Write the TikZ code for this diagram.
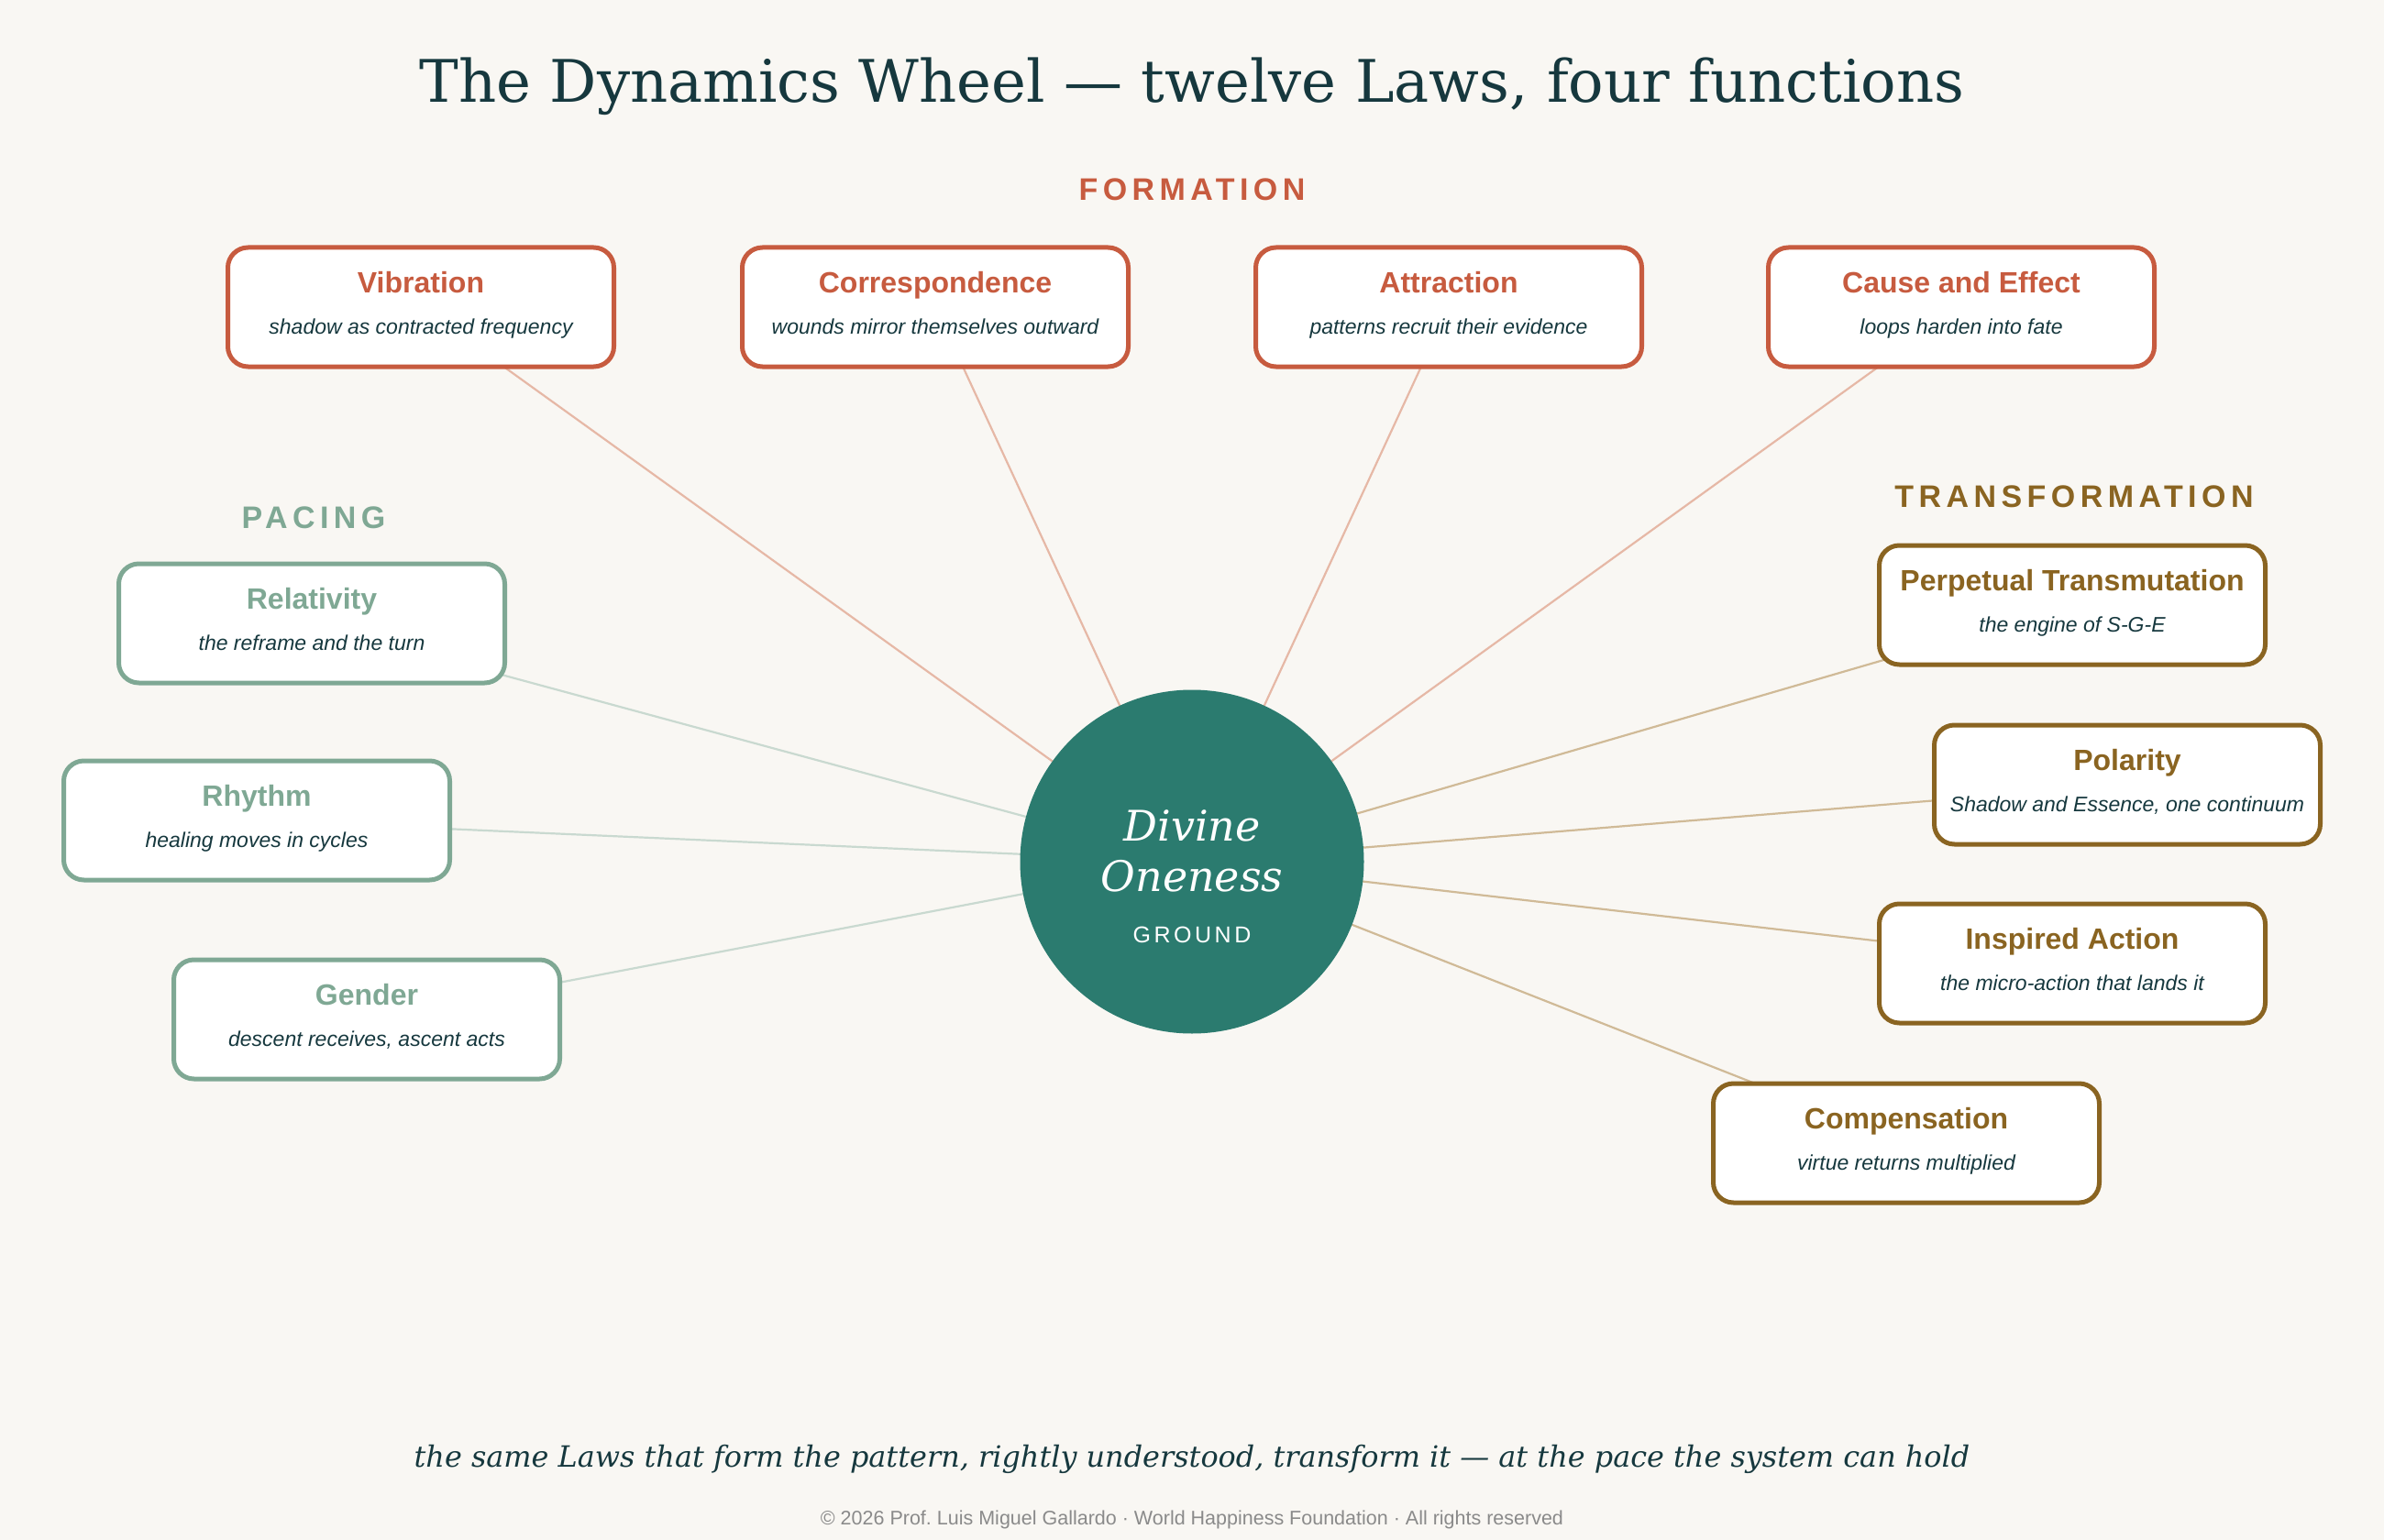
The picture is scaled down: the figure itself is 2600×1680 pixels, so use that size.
\documentclass[tikz,border=0pt]{standalone}
\usepackage{fontspec}
\setmainfont{DejaVu Serif}
\newfontfamily\lsans{Liberation Sans}
\frenchspacing
\definecolor{bgc}{HTML}{F9F7F3}
\definecolor{ink}{HTML}{16383E}
\definecolor{formc}{HTML}{C75B3F}
\definecolor{pacec}{HTML}{7FA894}
\definecolor{tranc}{HTML}{8A6421}
\definecolor{forml}{HTML}{E6B8A6}
\definecolor{pacel}{HTML}{C9D9D0}
\definecolor{tranl}{HTML}{D0BA97}
\definecolor{tealc}{HTML}{2B7B6F}
\definecolor{grayc}{HTML}{8A8A8A}
\pgfdeclarelayer{bgl}
\pgfdeclarelayer{linel}
\pgfsetlayers{bgl,linel,main}
\tikzset{
  lawframe/.style={rectangle, rounded corners=22pt, fill=white, line width=5pt,
    minimum width=421pt, minimum height=130pt, inner sep=0pt},
  lawtitle/.style={inner sep=0pt, anchor=base, font=\lsans\bfseries\fontsize{32}{38}\selectfont},
  lawsub/.style={inner sep=0pt, anchor=base, text=ink, font=\lsans\itshape\fontsize{23}{27}\selectfont},
  grouplabel/.style={inner sep=0pt, anchor=base, font=\lsans\bfseries\fontsize{34}{40}\selectfont\addfontfeature{LetterSpace=16}},
  spoke/.style={line width=2.2pt},
}
\newcommand{\lawbox}[6]{%
  \node[lawframe, draw=#4] (#1) at (#2,#3) {};
  \node[lawtitle, text=#4] (#1-t) at (#2,#3-15.5) {#5};
  \node[lawsub] (#1-s) at (#2,#3+29) {#6};
}
\begin{document}
\begin{tikzpicture}[x=1pt,y=-1pt]
\begin{pgfonlayer}{bgl}
\fill[bgc] (0,0) rectangle (2600,1680);
\end{pgfonlayer}
\useasboundingbox (0,0) rectangle (2600,1680);

% title
\node[inner sep=0pt, anchor=base, text=ink, font=\fontsize{64}{74}\selectfont] (title) at (1300,112)
  {The Dynamics Wheel — twelve Laws, four functions};

% group labels
\node[grouplabel, text=formc] (lform) at (1300,219) {FORMATION};
\node[grouplabel, text=pacec] (lpace) at (342,576) {PACING};
\node[grouplabel, text=tranc] (ltran) at (2262,553) {TRANSFORMATION};

% center
\node[circle, fill=tealc, minimum size=375pt, inner sep=0pt] (core) at (1300,940) {};
\node[inner sep=0pt, anchor=base, text=white, font=\itshape\fontsize{46}{54}\selectfont] (core-a) at (1300,917) {Divine};
\node[inner sep=0pt, anchor=base, text=white, font=\itshape\fontsize{46}{54}\selectfont] (core-b) at (1300,972) {Oneness};
\node[inner sep=0pt, anchor=base, text=white, font=\lsans\fontsize{25}{30}\selectfont\addfontfeature{LetterSpace=14}] (core-c) at (1300,1028) {GROUND};

% formation
\lawbox{vib}{459}{335}{formc}{Vibration}{shadow as contracted frequency}
\lawbox{cor}{1020}{335}{formc}{Correspondence}{wounds mirror themselves outward}
\lawbox{att}{1580}{335}{formc}{Attraction}{patterns recruit their evidence}
\lawbox{cau}{2139}{335}{formc}{Cause and Effect}{loops harden into fate}
% pacing
\lawbox{rel}{340}{680}{pacec}{Relativity}{the reframe and the turn}
\lawbox{rhy}{280}{895}{pacec}{Rhythm}{healing moves in cycles}
\lawbox{gen}{400}{1112}{pacec}{Gender}{descent receives, ascent acts}
% transformation
\lawbox{per}{2260}{660}{tranc}{Perpetual Transmutation}{the engine of S-G-E}
\lawbox{pol}{2320}{856}{tranc}{Polarity}{Shadow and Essence, one continuum}
\lawbox{ins}{2260}{1051}{tranc}{Inspired Action}{the micro-action that lands it}
\lawbox{com}{2079}{1247}{tranc}{Compensation}{virtue returns multiplied}

\begin{pgfonlayer}{linel}
\foreach \n in {vib,cor,att,cau} \draw[spoke, forml] (\n.center) -- (core.center);
\foreach \n in {rel,rhy,gen} \draw[spoke, pacel] (\n.center) -- (core.center);
\foreach \n in {per,pol,ins,com} \draw[spoke, tranl] (\n.center) -- (core.center);
\end{pgfonlayer}

% footer
\node[inner sep=0pt, anchor=base, text=ink, font=\itshape\fontsize{31.9}{38}\selectfont] (tag) at (1300,1600)
  {the same Laws that form the pattern, rightly understood, transform it — at the pace the system can hold};
\node[inner sep=0pt, anchor=base, text=grayc, font=\lsans\fontsize{21.5}{26}\selectfont] (copy) at (1300,1663)
  {© 2026 Prof. Luis Miguel Gallardo · World Happiness Foundation · All rights reserved};
\end{tikzpicture}
\end{document}
